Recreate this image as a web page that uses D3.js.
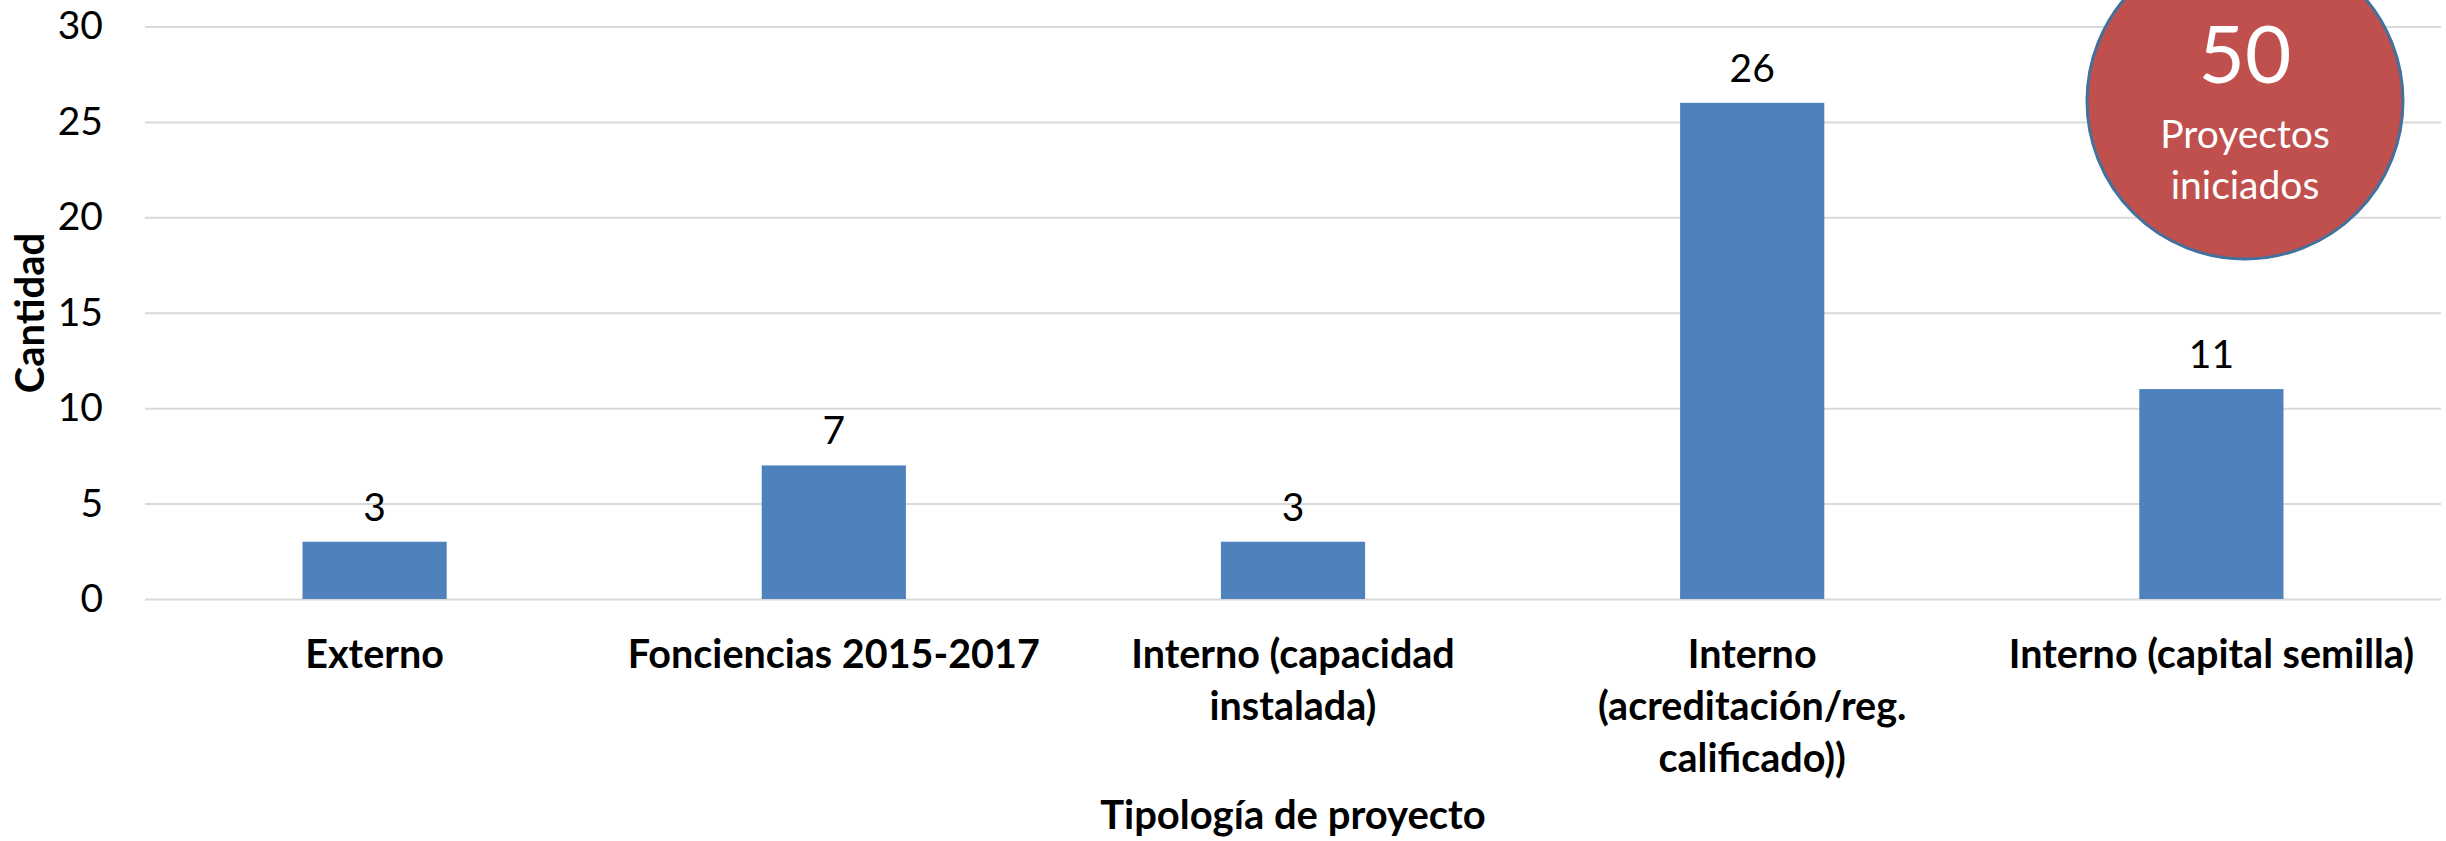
<!DOCTYPE html>
<html lang="es">
  <head>
    <meta charset="UTF-8" />
    <title>Tipología de proyecto</title>
    <script src="https://d3js.org/d3.v7.min.js"></script>
    <style>
      html, body { margin: 0; padding: 0; background: #fff; }
      svg { display: block; font-family: Lato, "Open Sans", sans-serif; }
    </style>
  </head>
  <body>
    <svg id="chart" width="2446" height="841"></svg>
    <script>
      // data
      const categories = [
        "Externo",
        "Fonciencias 2015-2017",
        "Interno (capacidad instalada)",
        "Interno (acreditación/reg. calificado))",
        "Interno (capital semilla)",
      ];
      const values = [3, 7, 3, 26, 11];
      const tickLines = [
        ["Externo"],
        ["Fonciencias 2015-2017"],
        ["Interno (capacidad", "instalada)"],
        ["Interno", "(acreditación/reg.", "calificado))"],
        ["Interno (capital semilla)"],
      ];
      const yTicks = [0, 5, 10, 15, 20, 25, 30];
      const total = 50;

      const svg = d3.select("#chart");
      const plotLeft = 145, plotRight = 2441, plotTop = 26.5, plotBottom = 599;

      const x = d3.scaleBand().domain(categories).range([plotLeft, plotRight]).padding(0);
      const y = d3.scaleLinear().domain([0, 30]).range([plotBottom, plotTop]);
      const barW = x.bandwidth() * 0.314;

      // gridlines + y tick labels
      const yAxis = svg
        .append("g")
        .attr("transform", `translate(${plotLeft},0)`)
        .call(
          d3.axisLeft(y).tickValues(yTicks).tickSize(-(plotRight - plotLeft)).tickPadding(42)
        )
        .attr("font-family", "Lato");
      yAxis.select(".domain").remove();
      yAxis.selectAll(".tick line").attr("stroke", "#d9d9d9").attr("stroke-width", 2);
      yAxis.selectAll(".tick text").attr("font-size", 39).attr("fill", "#000");

      // bars
      svg
        .append("g")
        .selectAll("rect")
        .data(values)
        .join("rect")
        .attr("x", (d, i) => x(categories[i]) + (x.bandwidth() - barW) / 2)
        .attr("y", (d) => y(d))
        .attr("width", barW)
        .attr("height", (d) => y(0) - y(d))
        .attr("fill", "#4f81bd");

      // data labels
      svg
        .append("g")
        .selectAll("text")
        .data(values)
        .join("text")
        .attr("x", (d, i) => x(categories[i]) + x.bandwidth() / 2)
        .attr("y", (d) => y(d) - 21)
        .attr("text-anchor", "middle")
        .attr("font-size", 39)
        .attr("fill", "#000")
        .text((d) => d);

      // category labels
      const xAxis = svg
        .append("g")
        .attr("transform", `translate(0,${plotBottom})`)
        .call(d3.axisBottom(x).tickSize(0).tickFormat(""))
        .attr("font-family", "Lato");
      xAxis.select(".domain").remove();
      xAxis.selectAll(".tick").each(function (d, i) {
        const t = d3
          .select(this)
          .append("text")
          .attr("text-anchor", "middle")
          .attr("font-size", 39.5)
          .attr("font-weight", "bold")
          .attr("fill", "#000");
        tickLines[i].forEach((line, k) => {
          t.append("tspan").attr("x", 0).attr("y", 69 + k * 52).text(line);
        });
      });

      // axis titles
      svg
        .append("text")
        .attr("x", (plotLeft + plotRight) / 2)
        .attr("y", 829)
        .attr("text-anchor", "middle")
        .attr("font-size", 40)
        .attr("font-weight", "bold")
        .text("Tipología de proyecto");

      svg
        .append("text")
        .attr("transform", `translate(44,313) rotate(-90)`)
        .attr("text-anchor", "middle")
        .attr("font-size", 40)
        .attr("font-weight", "bold")
        .text("Cantidad");

      // total badge
      const badge = svg.append("g").attr("transform", "translate(2245,101)");
      badge
        .append("circle")
        .attr("r", 158)
        .attr("fill", "#c0504d")
        .attr("stroke", "#41719c")
        .attr("stroke-width", 3);
      badge
        .append("text")
        .attr("y", -18)
        .attr("text-anchor", "middle")
        .attr("font-size", 80)
        .attr("fill", "#fff")
        .text(total);
      badge
        .append("text")
        .attr("y", 47)
        .attr("text-anchor", "middle")
        .attr("font-size", 39)
        .attr("fill", "#fff")
        .text("Proyectos");
      badge
        .append("text")
        .attr("y", 98)
        .attr("text-anchor", "middle")
        .attr("font-size", 39)
        .attr("fill", "#fff")
        .text("iniciados");
    </script>
  </body>
</html>
